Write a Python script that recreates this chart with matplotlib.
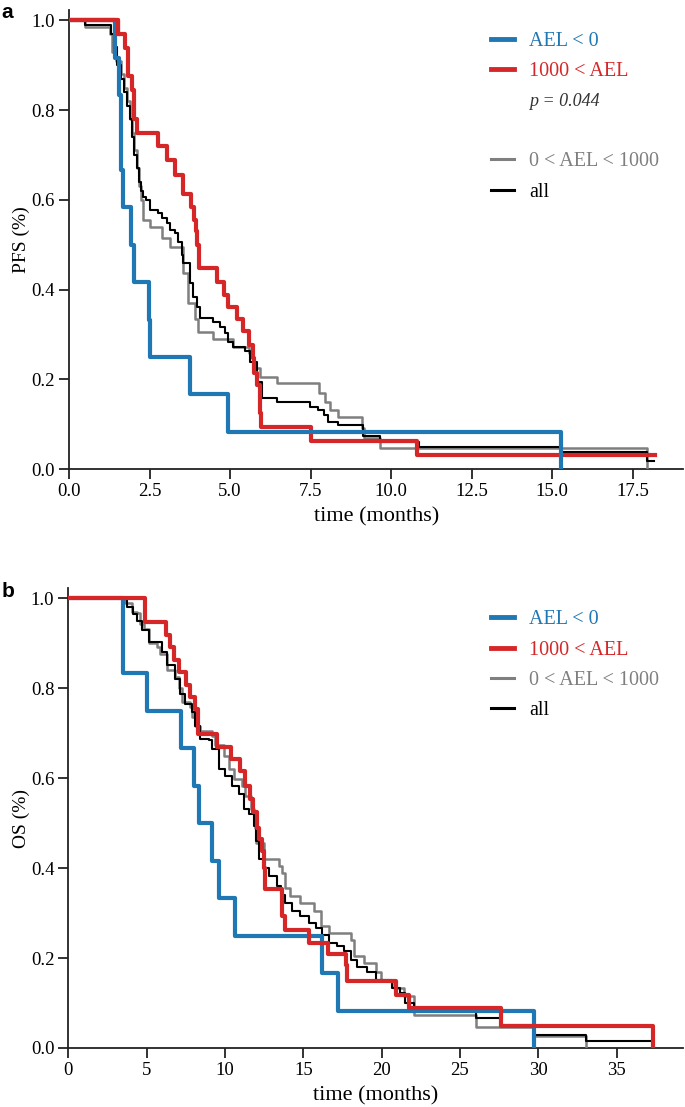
import matplotlib
matplotlib.use("Agg")
import matplotlib.pyplot as plt
from matplotlib.lines import Line2D

# ---- data (time in months, survival fraction) ----
# panel a: PFS
pfs_neg_t = [0, 1.42, 1.55, 1.6, 1.62, 1.67, 1.92, 2.02, 2.48, 2.52, 3.76, 4.94, 15.28]
pfs_neg_s = [1, 0.917, 0.833, 0.75, 0.667, 0.583, 0.5, 0.417, 0.333, 0.25, 0.167, 0.083, 0.0]

pfs_high_t = [0, 1.53, 1.74, 1.84, 1.95, 2.02, 2.1, 2.76, 3.03, 3.29, 3.55, 3.79, 3.88, 3.93, 3.98,
              4.02, 4.6, 4.81, 4.93, 5.2, 5.41, 5.6, 5.7, 5.75, 5.83, 5.93, 5.97, 7.5, 10.8, 18.2]
pfs_high_s = [1, 0.969, 0.938, 0.875, 0.844, 0.781, 0.75, 0.719, 0.688, 0.656, 0.613, 0.585, 0.555, 0.53, 0.5,
              0.448, 0.418, 0.388, 0.362, 0.334, 0.308, 0.276, 0.247, 0.214, 0.187, 0.125, 0.094, 0.0625, 0.031, 0.031]

pfs_mid_t = [0, 0.5, 1.27, 1.35, 1.45, 1.6, 1.7, 1.8, 1.88, 1.95, 2.02, 2.1, 2.17, 2.22, 2.31, 2.52, 2.88,
             3.14, 3.55, 3.7, 3.91, 4.0, 4.48, 5.08, 5.6, 5.72, 5.93, 6.45, 7.77, 7.95, 8.1, 8.36, 9.09,
             9.16, 9.64, 17.94]
pfs_mid_s = [1, 0.985, 0.97, 0.93, 0.91, 0.88, 0.85, 0.82, 0.78, 0.75, 0.71, 0.67, 0.63, 0.6, 0.555, 0.54, 0.515,
             0.495, 0.437, 0.37, 0.334, 0.306, 0.29, 0.273, 0.258, 0.225, 0.206, 0.191, 0.17, 0.15, 0.131, 0.117, 0.091,
             0.07, 0.048, 0.0]

pfs_all_t = [0, 0.5, 1.3, 1.4, 1.5, 1.62, 1.72, 1.8, 1.88, 1.95, 2.03, 2.1, 2.17, 2.24, 2.29, 2.39, 2.52,
             2.77, 2.88, 3.03, 3.14, 3.29, 3.39, 3.5, 3.55, 3.76, 3.86, 3.97, 4.07, 4.48, 4.69, 4.84, 4.95,
             5.1, 5.47, 5.62, 5.83, 5.98, 6.45, 7.48, 7.74, 7.9, 8.05, 8.36, 9.14, 9.66, 10.85, 15.28, 17.94, 18.15]
pfs_all_s = [1, 0.99, 0.97, 0.94, 0.9, 0.87, 0.84, 0.81, 0.78, 0.74, 0.7, 0.67, 0.64, 0.62, 0.607, 0.6, 0.578,
             0.57, 0.56, 0.548, 0.533, 0.526, 0.507, 0.477, 0.459, 0.415, 0.384, 0.362, 0.337, 0.328, 0.317, 0.303, 0.284,
             0.273, 0.262, 0.239, 0.195, 0.158, 0.149, 0.139, 0.131, 0.12, 0.105, 0.098, 0.074, 0.061, 0.049, 0.037, 0.018, 0.018]

# panel b: OS
os_neg_t = [0, 3.48, 3.52, 5.05, 7.19, 8.0, 8.32, 9.17, 9.6, 10.67, 16.2, 17.2, 29.75]
os_neg_s = [1, 0.917, 0.833, 0.75, 0.667, 0.583, 0.5, 0.417, 0.333, 0.25, 0.167, 0.083, 0.0]

os_high_t = [0, 4.9, 6.25, 6.5, 6.72, 7.04, 7.53, 7.79, 8.06, 8.28, 9.49, 10.39, 10.94, 11.3, 11.58, 11.8,
             12.05, 12.2, 12.35, 12.5, 12.58, 13.65, 13.86, 15.36, 16.6, 17.7, 17.8, 20.9, 21.76, 27.6, 37.3]
os_high_s = [1, 0.948, 0.918, 0.892, 0.862, 0.836, 0.807, 0.78, 0.753, 0.699, 0.669, 0.643, 0.615, 0.583, 0.554, 0.524,
             0.49, 0.464, 0.438, 0.4, 0.353, 0.293, 0.263, 0.234, 0.208, 0.185, 0.148, 0.118, 0.089, 0.048, 0.0]

os_mid_t = [0, 3.63, 4.05, 4.38, 4.59, 4.8, 5.12, 5.66, 5.87, 6.3, 6.83, 7.04, 7.26, 7.79, 7.9, 8.1, 8.43,
            9.17, 9.39, 9.92, 10.24, 10.56, 11.1, 11.3, 11.63, 11.84, 11.9, 12.0, 12.48, 13.44, 13.65, 13.86,
            14.18, 14.82, 15.68, 16.1, 16.64, 18.02, 18.24, 18.9, 19.62, 19.94, 20.8, 21.43, 22.08, 26.0,
            29.75, 33.05]
os_mid_s = [1, 0.989, 0.97, 0.967, 0.944, 0.933, 0.9, 0.892, 0.877, 0.84, 0.825, 0.8, 0.77, 0.758, 0.736, 0.717, 0.706,
            0.695, 0.673, 0.65, 0.621, 0.598, 0.583, 0.561, 0.531, 0.509, 0.49, 0.457, 0.42, 0.405, 0.39, 0.356,
            0.338, 0.323, 0.304, 0.271, 0.256, 0.241, 0.204, 0.189, 0.17, 0.152, 0.133, 0.115, 0.074, 0.046,
            0.027, 0.0]

os_all_t = [0, 3.73, 4.1, 4.4, 4.7, 5.12, 5.97, 6.3, 6.83, 7.15, 7.47, 7.9, 8.1, 8.43, 8.96, 9.17, 9.6,
            10.03, 10.45, 10.88, 11.2, 11.52, 11.84, 12.0, 12.16, 12.5, 12.8, 13.3, 13.6, 13.86, 14.29, 14.82,
            15.36, 15.78, 16.2, 16.64, 17.17, 17.6, 18.02, 18.45, 19.09, 19.62, 20.69, 21.2, 21.5, 22.08,
            26.0, 27.6, 29.75, 33.05, 37.2]
os_all_s = [1, 0.981, 0.965, 0.95, 0.929, 0.903, 0.881, 0.851, 0.821, 0.788, 0.766, 0.747, 0.717, 0.688, 0.684, 0.665, 0.621,
            0.606, 0.583, 0.565, 0.531, 0.52, 0.494, 0.46, 0.42, 0.4, 0.382, 0.36, 0.34, 0.323, 0.304, 0.293,
            0.278, 0.267, 0.252, 0.234, 0.226, 0.215, 0.196, 0.181, 0.17, 0.152, 0.133, 0.122, 0.1, 0.089,
            0.066, 0.051, 0.03, 0.016, 0.016]

labels = ["AEL < 0", "1000 < AEL", "0 < AEL < 1000", "all"]
colors = ["#1f77b4", "#d62728", "#7f7f7f", "black"]
widths = [3.0, 3.0, 1.8, 1.5]
p_text = "p = 0.044"

plt.rcParams['font.family'] = ['Liberation Serif', 'DejaVu Serif']

fig = plt.figure(figsize=(6.85, 11.07), dpi=100)
ax1 = fig.add_axes([0.1007, 0.5763, 0.897, 0.4146])
ax2 = fig.add_axes([0.0997, 0.0533, 0.898, 0.4155])


def style(ax, xmax):
    for s in ["top", "right"]:
        ax.spines[s].set_visible(False)
    for s in ["left", "bottom"]:
        ax.spines[s].set_linewidth(1.3)
        ax.spines[s].set_color("#222222")
    ax.tick_params(direction="out", length=7, width=1.3, labelsize=13.5, color="#222222", pad=3)
    ax.set_ylim(0, 1.023)
    ax.set_xlim(0, xmax)
    ax.set_yticks([0, 0.2, 0.4, 0.6, 0.8, 1.0])
    ax.set_yticklabels(["0.0", "0.2", "0.4", "0.6", "0.8", "1.0"])
    ax.set_xlabel("time (months)", fontsize=16, labelpad=5)


# panel a
curves_a = [(pfs_mid_t, pfs_mid_s, 2), (pfs_all_t, pfs_all_s, 3),
            (pfs_high_t, pfs_high_s, 1), (pfs_neg_t, pfs_neg_s, 0)]
for t, s, i in curves_a:
    ax1.step(t, s, where="post", color=colors[i], lw=widths[i], zorder=3 + (i < 2))
ax1.step(pfs_high_t[:2], pfs_high_s[:2], where="post", color=colors[1], lw=widths[1], zorder=6)
style(ax1, 19.07)
ax1.set_xticks([0, 2.5, 5, 7.5, 10, 12.5, 15, 17.5])
ax1.set_xticklabels(["0.0", "2.5", "5.0", "7.5", "10.0", "12.5", "15.0", "17.5"])
ax1.set_ylabel("PFS (%)", fontsize=14, labelpad=1)

h = [Line2D([], [], color=colors[0], lw=3.5),
     Line2D([], [], color=colors[1], lw=3.5),
     Line2D([], [], color="none"),
     Line2D([], [], color="none"),
     Line2D([], [], color=colors[2], lw=2.2),
     Line2D([], [], color=colors[3], lw=2.2)]
leg = ax1.legend(h, [labels[0], labels[1], p_text, " ", labels[2], labels[3]],
                 loc="upper left", bbox_to_anchor=(0.687, 0.953), frameon=False,
                 fontsize=14.5, handlelength=1.15, handletextpad=0.75, labelspacing=0.56,
                 borderpad=0, borderaxespad=0)
tc = [colors[0], colors[1], "#333333", "#333333", colors[2], colors[3]]
for txt, c in zip(leg.get_texts(), tc):
    txt.set_color(c)
leg.get_texts()[2].set_fontstyle("italic")
leg.get_texts()[2].set_fontsize(13)

# panel b
curves_b = [(os_mid_t, os_mid_s, 2), (os_all_t, os_all_s, 3),
            (os_neg_t, os_neg_s, 0), (os_high_t, os_high_s, 1)]
for t, s, i in curves_b:
    ax2.step(t, s, where="post", color=colors[i], lw=widths[i], zorder=3 + (i < 2))
style(ax2, 39.26)
ax2.set_xticks([0, 5, 10, 15, 20, 25, 30, 35])
ax2.set_ylabel("OS (%)", fontsize=14, labelpad=1)

h2 = [Line2D([], [], color=colors[i], lw=3.5 if i < 2 else 2.2) for i in range(4)]
leg2 = ax2.legend(h2, labels, loc="upper left", bbox_to_anchor=(0.687, 0.952), frameon=False,
                  fontsize=14.5, handlelength=1.15, handletextpad=0.75, labelspacing=0.56,
                  borderpad=0, borderaxespad=0)
for txt, c in zip(leg2.get_texts(), colors):
    txt.set_color(c)

fig.text(0.002, 0.997, "a", fontsize=15, fontweight="bold", family="Liberation Sans", va="top")
fig.text(0.002, 0.474, "b", fontsize=15, fontweight="bold", family="Liberation Sans", va="top")

fig.savefig("out.png", dpi=100)
